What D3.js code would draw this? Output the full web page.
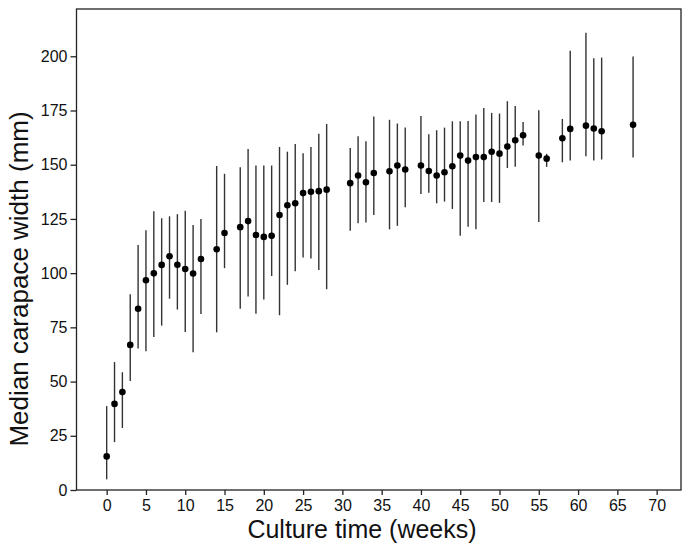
<!DOCTYPE html>
<meta charset="utf-8">
<style>
body { margin: 0; background: #fff; }
.axis text { font: 16px "Liberation Sans", Arial, sans-serif; fill: #111; }
.axis path, .axis line { fill: none; stroke: #222; stroke-width: 1.3; }
.label { font-family: "Liberation Sans", Arial, sans-serif; fill: #111; }
.err { stroke: #333; stroke-width: 1.4; }
.dot { fill: #000; }
</style>
<svg class="chart"></svg>
<script src="https://cdnjs.cloudflare.com/ajax/libs/d3/7.8.5/d3.min.js"></script>
<script>
var weeks  = [0, 1, 2, 3, 4, 5, 6, 7, 8, 9, 10, 11, 12, 14, 15, 17, 18, 19, 20, 21, 22, 23, 24, 25, 26, 27, 28,
              31, 32, 33, 34, 36, 37, 38, 40, 41, 42, 43, 44, 45, 46, 47, 48, 49, 50, 51, 52, 53, 55, 56, 58, 59, 61, 62, 63, 67];
var median = [15.5, 39.7, 45.2, 66.9, 83.6, 96.7, 99.9, 103.8, 107.8, 103.9, 101.9, 99.8, 106.5, 111, 118.5, 121.2, 124, 117.6, 116.7, 117.2, 126.8, 131.3, 132.2, 136.9, 137.5, 137.8, 138.5,
              141.5, 145, 141.9, 146.2, 147, 149.6, 147.8, 149.6, 147.1, 145, 146.5, 149.3, 154.2, 151.9, 153.5, 153.5, 156, 155.1, 158.4, 161.3, 163.6, 154.2, 152.8, 162.2, 166.5, 168, 166.7, 165.4, 168.4];
var upper  = [38.7, 59, 54.3, 90.3, 113, 119.8, 128.5, 125.3, 126.2, 127.2, 128.8, 122.2, 125, 149.4, 145.8, 148.8, 157.3, 149.6, 149.6, 149.6, 158.2, 156, 159.6, 155.3, 158.2, 164.3, 168.8,
              157.7, 163.1, 160.8, 172.2, 170.7, 169, 167.1, 172.5, 164.1, 165.9, 167.1, 170, 170, 170.2, 173.1, 176.2, 173.9, 173.6, 179.3, 177.1, 169.7, 175.1, 155, 171.1, 202.6, 210.9, 199.1, 199.4, 199.9];
var lower  = [4.9, 22.1, 28.6, 50.3, 65.2, 64, 70.6, 75.8, 88.2, 83.2, 72.9, 63.5, 81.2, 72.7, 102.3, 83.6, 89.2, 81.3, 87.8, 98.7, 80.6, 94.6, 100.9, 107.2, 106.7, 101.5, 92.6,
              119.6, 123, 123.3, 126.8, 120.2, 121.8, 130.4, 136.5, 137.1, 132.2, 133, 129.6, 117.2, 121.4, 120.2, 132.8, 132.8, 132.4, 148.5, 149.1, 158.8, 123.6, 149, 151.1, 151.9, 153.9, 151.9, 152.4, 153.3];
var xTicks = d3.range(0, 71, 5);
var yTicks = d3.range(0, 201, 25);

var data = weeks.map(function(w, i){
	return {week: w, median: median[i], upper: upper[i], lower: lower[i]};
});

var width = 683, height = 547;
var margin = {top: 9, right: 2, bottom: 57, left: 76.5};
var iw = width - margin.left - margin.right,
	ih = height - margin.top - margin.bottom;

var x = d3.scaleLinear().domain([-3.84, 73.1]).range([0, iw]);
var y = d3.scaleLinear().domain([0, 221.8]).range([ih, 0]);

var svg = d3.select(".chart")
	.attr("width", width)
	.attr("height", height);

var chart = svg.append("g")
	.attr("transform", "translate(" + margin.left + "," + margin.top + ")");

// frame
chart.append("rect")
	.attr("width", iw).attr("height", ih)
	.attr("fill", "none").attr("stroke", "#222").attr("stroke-width", 1.3);

chart.append("g")
	.attr("class", "x axis")
	.attr("transform", "translate(0," + ih + ")")
	.call(d3.axisBottom(x).tickValues(xTicks).tickSize(5).tickPadding(5).tickSizeOuter(0))
	.call(function(g){ g.select(".domain").remove(); });

chart.append("g")
	.attr("class", "y axis")
	.call(d3.axisLeft(y).tickValues(yTicks).tickSize(6).tickPadding(3).tickSizeOuter(0))
	.call(function(g){ g.select(".domain").remove(); });

chart.selectAll(".err")
		.data(data)
	.enter().append("line")
		.attr("class", "err")
		.attr("x1", function(d){ return x(d.week); })
		.attr("x2", function(d){ return x(d.week); })
		.attr("y1", function(d){ return y(d.upper); })
		.attr("y2", function(d){ return y(d.lower); });

chart.selectAll(".dot")
		.data(data)
	.enter().append("circle")
		.attr("class", "dot")
		.attr("cx", function(d){ return x(d.week); })
		.attr("cy", function(d){ return y(d.median); })
		.attr("r", 3.3);

svg.append("text")
	.attr("class", "label")
	.attr("font-size", 25)
	.attr("text-anchor", "middle")
	.attr("x", 362).attr("y", 538)
	.text("Culture time (weeks)");

svg.append("text")
	.attr("class", "label")
	.attr("font-size", 26)
	.attr("text-anchor", "middle")
	.attr("transform", "translate(28,279) rotate(-90)")
	.text("Median carapace width (mm)");
</script>
